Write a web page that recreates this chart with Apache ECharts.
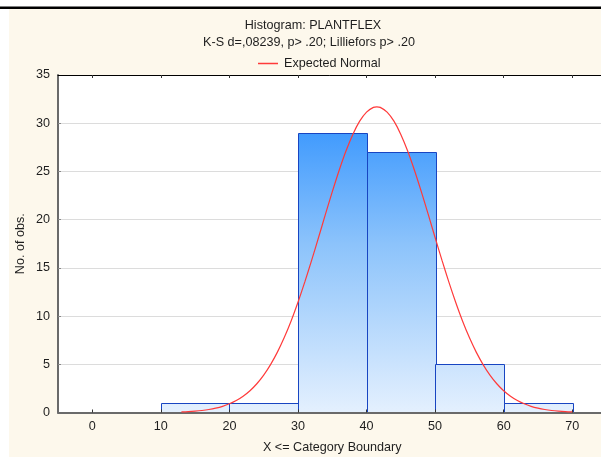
<!DOCTYPE html>
<html>
<head>
<meta charset="utf-8">
<script src="https://cdn.jsdelivr.net/npm/echarts@6/dist/echarts.min.js"></script>
<style>
html,body{margin:0;padding:0;background:#fff;}
#chart{width:601px;height:457px;}
</style>
</head>
<body>
<div id="chart"></div>
<script>
// ---- data ----
var titleText = 'Histogram: PLANTFLEX';
var subtitleText = 'K-S d=,08239, p> .20; Lilliefors p> .20';
var legendName = 'Expected Normal';
var xAxisName = 'X <= Category Boundary';
var yAxisName = 'No. of obs.';

var binStarts = [10, 20, 30, 40, 50, 60];
var binEnds   = [20, 30, 40, 50, 60, 70];
var counts    = [1, 1, 29, 27, 5, 1];

var xTicks = [0, 10, 20, 30, 40, 50, 60, 70];

var curveX = [13,14,15,16,17,18,19,20,21,22,23,24,25,26,27,28,29,30,31,32,33,34,35,36,37,38,39,40,41,41.5,
              42,43,44,45,46,47,48,49,50,51,52,53,54,55,56,57,58,59,60,61,62,63,64,65,66,67,68,69,70];
var curveY = [0.06,0.09,0.14,0.21,0.31,0.45,0.64,0.90,1.24,1.69,2.26,2.98,3.88,4.97,6.26,7.77,9.49,11.43,13.54,15.80,18.15,20.54,22.88,25.10,27.12,28.84,30.21,31.15,31.64,31.70,
              31.64,31.15,30.21,28.84,27.12,25.10,22.88,20.54,18.15,15.80,13.54,11.43,9.49,7.77,6.26,4.97,3.88,2.98,2.26,1.69,1.24,0.90,0.64,0.45,0.31,0.21,0.14,0.09,0.06];

// ---- build ----
var FONT = '"Liberation Sans", Arial, sans-serif';
var bars = binStarts.map(function (s, i) { return [s, binEnds[i], counts[i]]; });
var curve = curveX.map(function (x, i) { return [x, curveY[i]]; });

var chart = echarts.init(document.getElementById('chart'));
chart.setOption({
  backgroundColor: '#ffffff',
  animation: false,
  graphic: [
    { type: 'rect', z: -10, shape: { x: 9, y: 9, width: 600, height: 460 }, style: { fill: '#fdf8ec' } },
    { type: 'rect', z: -9, shape: { x: 0, y: 6.5, width: 601, height: 2.5 }, style: { fill: '#000' } },
    { type: 'text', x: 313, y: 19, style: { text: titleText, textAlign: 'center', fill: '#1e1e1e', font: '12.6px ' + FONT } },
    { type: 'text', x: 309, y: 36, style: { text: subtitleText, textAlign: 'center', fill: '#1e1e1e', font: '12.6px ' + FONT } }
  ],
  legend: {
    left: 253, top: 52,
    icon: 'rect', itemWidth: 20, itemHeight: 1.5, itemGap: 6,
    textStyle: { fontFamily: FONT, fontSize: 12.6, color: '#1e1e1e', padding: [0, 0, 0, 1] },
    data: [legendName]
  },
  grid: { left: 58, top: 75, width: 548.5, height: 337.5, outerBoundsMode: 'none', containLabel: false,
          show: true, backgroundColor: '#ffffff', borderWidth: 0 },
  xAxis: [{
    type: 'value', min: -5, max: 75, position: 'bottom', z: 3,
    name: xAxisName, nameLocation: 'middle', nameGap: 29,
    nameTextStyle: { fontFamily: FONT, fontSize: 12.6, color: '#1e1e1e' },
    axisLine: { onZero: false, lineStyle: { color: '#6a6a6a', width: 2 } },
    axisTick: { inside: true, length: 3, customValues: xTicks, lineStyle: { color: '#333' } },
    axisLabel: { customValues: xTicks, margin: 8, fontFamily: FONT, fontSize: 12.6, color: '#1e1e1e' },
    splitLine: { show: false }
  }, {
    type: 'value', min: -5, max: 75, position: 'top', z: 3,
    axisLine: { show: true, onZero: false, lineStyle: { color: '#000', width: 1 } },
    axisTick: { show: true, inside: true, length: 3, customValues: xTicks, lineStyle: { color: '#333' } },
    axisLabel: { show: false },
    splitLine: { show: false }
  }],
  yAxis: {
    type: 'value', min: 0, max: 35, interval: 5,
    name: yAxisName, nameLocation: 'middle', nameGap: 31, nameRotate: 90, nameMoveOverlap: false,
    nameTextStyle: { fontFamily: FONT, fontSize: 12.6, color: '#1e1e1e' },
    axisLine: { show: true, onZero: false, lineStyle: { color: '#6a6a6a', width: 2 } },
    axisTick: { show: true, inside: true, length: 3, lineStyle: { color: '#888' } },
    axisLabel: { margin: 8, fontFamily: FONT, fontSize: 12.6, color: '#1e1e1e' },
    splitLine: { show: true, lineStyle: { color: '#dcdcdc', width: 1 } }
  },
  series: [{
    type: 'custom',
    z: 2,
    data: bars,
    renderItem: function (params, api) {
      var x0 = api.value(0), x1 = api.value(1), v = api.value(2);
      var p0 = api.coord([x0, v]);
      var p1 = api.coord([x1, 0]);
      var yTop = api.coord([0, 35])[1];
      var yBot = api.coord([0, 0])[1];
      var grad = new echarts.graphic.LinearGradient(0, yTop, 0, yBot, [
        { offset: 0, color: '#1a86ff' },
        { offset: 0.5, color: '#8cc3fb' },
        { offset: 1, color: '#e4f0fe' }
      ], true);
      return {
        type: 'rect',
        shape: { x: Math.round(p0[0]) + 0.5, y: Math.round(p0[1]) + 0.5, width: Math.round(p1[0] - p0[0]), height: Math.round(p1[1] - p0[1]) },
        style: { fill: grad, stroke: '#1845c2', lineWidth: 1 }
      };
    }
  }, {
    type: 'line',
    name: legendName,
    z: 4,
    data: curve,
    smooth: 0.3,
    showSymbol: false,
    symbol: 'none',
    lineStyle: { color: '#ff3a3a', width: 1.2 },
    itemStyle: { color: '#ff3a3a' }
  }]
});
</script>
</body>
</html>
